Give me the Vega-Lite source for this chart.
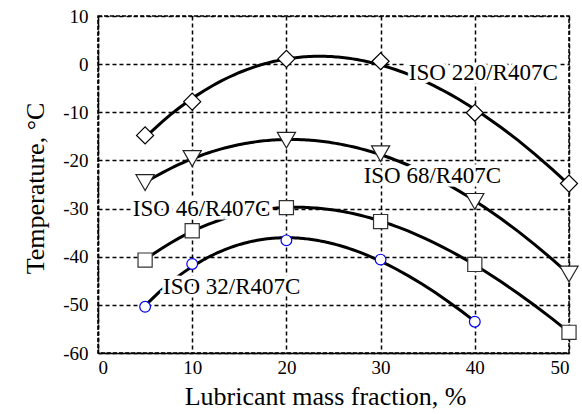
{
  "$schema": "https://vega.github.io/schema/vega-lite/v6.json",
  "width": 471,
  "height": 337,
  "autosize": {"type": "none"},
  "padding": {"left": 98, "top": 16, "right": 13, "bottom": 61},
  "background": "white",
  "config": {
    "font": "Liberation Serif",
    "text": {"font": "Liberation Serif"},
    "view": {"stroke": "black", "strokeWidth": 1.5, "strokeDash": [4, 2]},
    "axis": {
      "labelFont": "Liberation Serif",
      "titleFont": "Liberation Serif",
      "labelColor": "black",
      "titleColor": "black",
      "labelFontSize": 19,
      "titleFontSize": 26,
      "titleFontWeight": "normal",
      "gridColor": "black",
      "gridDash": [4, 3],
      "gridWidth": 1.5,
      "gridOpacity": 1,
      "ticks": false,
      "domainColor": "black",
      "domainWidth": 1.5,
      "labelExpr": "replace(datum.label, '\u2212', '-')"
    }
  },
  "datasets": {
    "pts": [
      {"series": "ISO 220", "x": 5, "y": -14.8},
      {"series": "ISO 220", "x": 10, "y": -7.8},
      {"series": "ISO 220", "x": 20, "y": 1.1},
      {"series": "ISO 220", "x": 30, "y": 0.6},
      {"series": "ISO 220", "x": 40, "y": -10.1},
      {"series": "ISO 220", "x": 50, "y": -24.8},
      {"series": "ISO 68", "x": 5, "y": -24.6},
      {"series": "ISO 68", "x": 10, "y": -19.6},
      {"series": "ISO 68", "x": 20, "y": -15.8},
      {"series": "ISO 68", "x": 30, "y": -18.6},
      {"series": "ISO 68", "x": 40, "y": -28.5},
      {"series": "ISO 68", "x": 50, "y": -43.6},
      {"series": "ISO 46", "x": 5, "y": -40.7},
      {"series": "ISO 46", "x": 10, "y": -34.6},
      {"series": "ISO 46", "x": 20, "y": -29.8},
      {"series": "ISO 46", "x": 30, "y": -32.7},
      {"series": "ISO 46", "x": 40, "y": -41.6},
      {"series": "ISO 46", "x": 50, "y": -55.7},
      {"series": "ISO 32", "x": 5, "y": -50.4},
      {"series": "ISO 32", "x": 10, "y": -41.5},
      {"series": "ISO 32", "x": 20, "y": -36.6},
      {"series": "ISO 32", "x": 30, "y": -40.6},
      {"series": "ISO 32", "x": 40, "y": -53.5}
    ],
    "labels": [
      {"text": "ISO 220/R407C", "x": 33.0, "y": -1.8},
      {"text": "ISO 68/R407C", "x": 28.2, "y": -23.3},
      {"text": "ISO 46/R407C", "x": 3.7, "y": -30.0},
      {"text": "ISO 32/R407C", "x": 6.9, "y": -46.3}
    ]
  },
  "layer": [
    {
      "data": {"name": "pts"},
      "transform": [
        {"regression": "y", "on": "x", "groupby": ["series"], "method": "poly", "order": 3}
      ],
      "mark": {"type": "line", "color": "black", "strokeWidth": 3},
      "encoding": {
        "x": {
          "field": "x", "type": "quantitative",
          "scale": {"domain": [0, 50], "nice": false},
          "axis": {"values": [0, 10, 20, 30, 40, 50], "title": "Lubricant mass fraction, %", "labelPadding": 5, "titlePadding": 6, "titleX": 227, "titleAlign": "center", "domainDash": []}
        },
        "y": {
          "field": "y", "type": "quantitative",
          "scale": {"domain": [-60, 10], "nice": false},
          "axis": {"values": [-60, -50, -40, -30, -20, -10, 0, 10], "title": "Temperature, °C", "labelPadding": 10, "titleX": -55, "titleY": 172, "titleAlign": "center", "titleBaseline": "alphabetic", "domainDash": [4, 2]}
        },
        "detail": {"field": "series"}
      }
    },
    {
      "data": {"name": "labels"},
      "mark": {"type": "text", "align": "left", "baseline": "middle", "fontSize": 23, "font": "Liberation Serif", "stroke": "white", "strokeWidth": 7, "fill": "white"},
      "encoding": {
        "x": {"field": "x", "type": "quantitative"},
        "y": {"field": "y", "type": "quantitative"},
        "text": {"field": "text"}
      }
    },
    {
      "data": {"name": "labels"},
      "mark": {"type": "text", "align": "left", "baseline": "middle", "fontSize": 23, "font": "Liberation Serif", "color": "black"},
      "encoding": {
        "x": {"field": "x", "type": "quantitative"},
        "y": {"field": "y", "type": "quantitative"},
        "text": {"field": "text"}
      }
    },
    {
      "data": {"name": "pts"},
      "transform": [{"filter": "datum.series === 'ISO 220'"}],
      "mark": {"type": "point", "shape": "diamond", "size": 290, "filled": true, "fill": "white", "stroke": "black", "strokeWidth": 1.2, "opacity": 1},
      "encoding": {
        "x": {"field": "x", "type": "quantitative"},
        "y": {"field": "y", "type": "quantitative"}
      }
    },
    {
      "data": {"name": "pts"},
      "transform": [{"filter": "datum.series === 'ISO 68'"}],
      "mark": {"type": "point", "shape": "triangle-down", "size": 330, "filled": true, "fill": "white", "stroke": "#222222", "strokeWidth": 1.2, "opacity": 1},
      "encoding": {
        "x": {"field": "x", "type": "quantitative"},
        "y": {"field": "y", "type": "quantitative"}
      }
    },
    {
      "data": {"name": "pts"},
      "transform": [{"filter": "datum.series === 'ISO 46'"}],
      "mark": {"type": "point", "shape": "square", "size": 200, "filled": true, "fill": "white", "stroke": "#333333", "strokeWidth": 1.2, "opacity": 1},
      "encoding": {
        "x": {"field": "x", "type": "quantitative"},
        "y": {"field": "y", "type": "quantitative"}
      }
    },
    {
      "data": {"name": "pts"},
      "transform": [{"filter": "datum.series === 'ISO 32'"}],
      "mark": {"type": "point", "shape": "circle", "size": 115, "filled": true, "fill": "white", "stroke": "#0000ee", "strokeWidth": 1.2, "opacity": 1},
      "encoding": {
        "x": {"field": "x", "type": "quantitative"},
        "y": {"field": "y", "type": "quantitative"}
      }
    }
  ]
}
